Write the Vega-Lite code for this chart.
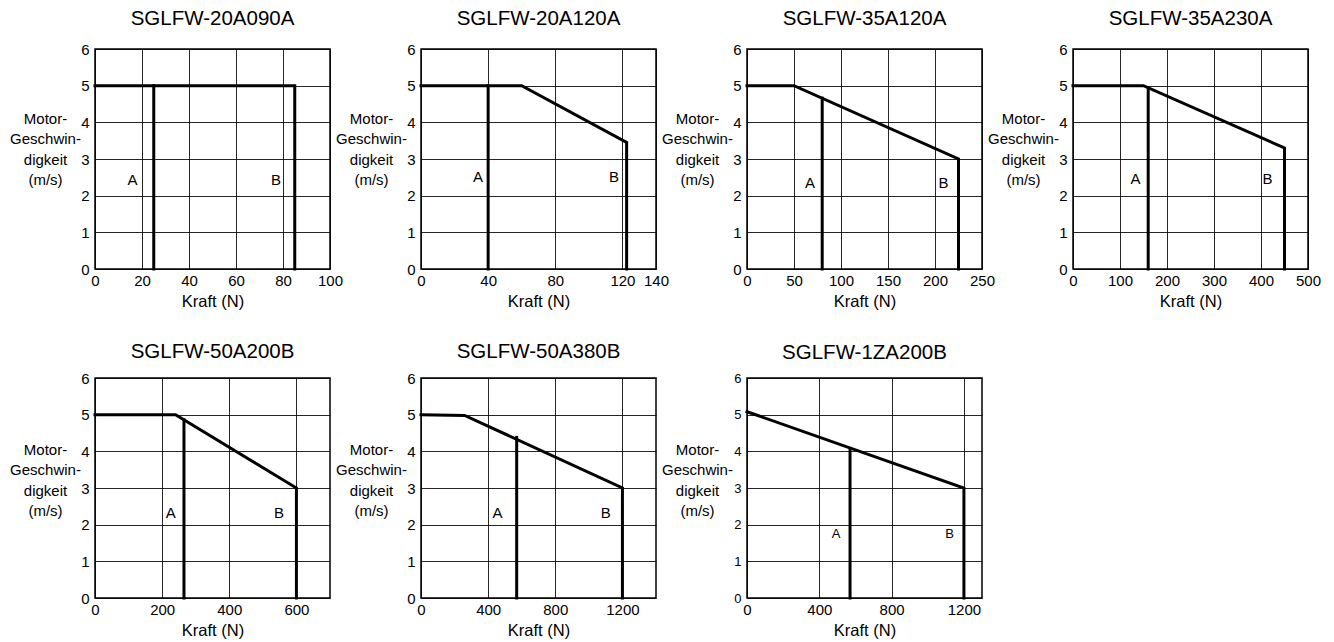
{
  "$schema": "https://vega.github.io/schema/vega-lite/v6.json",
  "padding": {"left": 8, "top": 7, "right": 0, "bottom": 0},
  "background": "white",
  "datasets": {
    "rows": [
      {"p": "SGLFW-20A090A", "k": "line", "s": "B", "i": 0, "x": 0, "y": 5},
      {"p": "SGLFW-20A090A", "k": "line", "s": "B", "i": 1, "x": 85, "y": 5},
      {"p": "SGLFW-20A090A", "k": "line", "s": "B", "i": 2, "x": 85, "y": 0},
      {"p": "SGLFW-20A090A", "k": "line", "s": "A", "i": 0, "x": 25, "y": 0},
      {"p": "SGLFW-20A090A", "k": "line", "s": "A", "i": 1, "x": 25, "y": 5},
      {"p": "SGLFW-20A090A", "k": "label", "t": "A", "x": 16, "y": 2.43},
      {"p": "SGLFW-20A090A", "k": "label", "t": "B", "x": 77, "y": 2.43},

      {"p": "SGLFW-20A120A", "k": "line", "s": "B", "i": 0, "x": 0, "y": 5},
      {"p": "SGLFW-20A120A", "k": "line", "s": "B", "i": 1, "x": 60, "y": 5},
      {"p": "SGLFW-20A120A", "k": "line", "s": "B", "i": 2, "x": 122.5, "y": 3.45},
      {"p": "SGLFW-20A120A", "k": "line", "s": "B", "i": 3, "x": 122.5, "y": 0},
      {"p": "SGLFW-20A120A", "k": "line", "s": "A", "i": 0, "x": 40, "y": 0},
      {"p": "SGLFW-20A120A", "k": "line", "s": "A", "i": 1, "x": 40, "y": 5},
      {"p": "SGLFW-20A120A", "k": "label", "t": "A", "x": 34, "y": 2.52},
      {"p": "SGLFW-20A120A", "k": "label", "t": "B", "x": 115, "y": 2.52},

      {"p": "SGLFW-35A120A", "k": "line", "s": "B", "i": 0, "x": 0, "y": 5},
      {"p": "SGLFW-35A120A", "k": "line", "s": "B", "i": 1, "x": 50, "y": 5},
      {"p": "SGLFW-35A120A", "k": "line", "s": "B", "i": 2, "x": 225, "y": 3},
      {"p": "SGLFW-35A120A", "k": "line", "s": "B", "i": 3, "x": 225, "y": 0},
      {"p": "SGLFW-35A120A", "k": "line", "s": "A", "i": 0, "x": 80, "y": 0},
      {"p": "SGLFW-35A120A", "k": "line", "s": "A", "i": 1, "x": 80, "y": 4.66},
      {"p": "SGLFW-35A120A", "k": "label", "t": "A", "x": 67, "y": 2.35},
      {"p": "SGLFW-35A120A", "k": "label", "t": "B", "x": 209, "y": 2.35},

      {"p": "SGLFW-35A230A", "k": "line", "s": "B", "i": 0, "x": 0, "y": 5},
      {"p": "SGLFW-35A230A", "k": "line", "s": "B", "i": 1, "x": 150, "y": 5},
      {"p": "SGLFW-35A230A", "k": "line", "s": "B", "i": 2, "x": 450, "y": 3.3},
      {"p": "SGLFW-35A230A", "k": "line", "s": "B", "i": 3, "x": 450, "y": 0},
      {"p": "SGLFW-35A230A", "k": "line", "s": "A", "i": 0, "x": 160, "y": 0},
      {"p": "SGLFW-35A230A", "k": "line", "s": "A", "i": 1, "x": 160, "y": 4.94},
      {"p": "SGLFW-35A230A", "k": "label", "t": "A", "x": 133, "y": 2.46},
      {"p": "SGLFW-35A230A", "k": "label", "t": "B", "x": 414, "y": 2.46},

      {"p": "SGLFW-50A200B", "k": "line", "s": "B", "i": 0, "x": 0, "y": 5},
      {"p": "SGLFW-50A200B", "k": "line", "s": "B", "i": 1, "x": 240, "y": 5},
      {"p": "SGLFW-50A200B", "k": "line", "s": "B", "i": 2, "x": 600, "y": 3},
      {"p": "SGLFW-50A200B", "k": "line", "s": "B", "i": 3, "x": 600, "y": 0},
      {"p": "SGLFW-50A200B", "k": "line", "s": "A", "i": 0, "x": 265, "y": 0},
      {"p": "SGLFW-50A200B", "k": "line", "s": "A", "i": 1, "x": 265, "y": 4.86},
      {"p": "SGLFW-50A200B", "k": "label", "t": "A", "x": 226, "y": 2.33},
      {"p": "SGLFW-50A200B", "k": "label", "t": "B", "x": 548, "y": 2.33},

      {"p": "SGLFW-50A380B", "k": "line", "s": "B", "i": 0, "x": 0, "y": 5},
      {"p": "SGLFW-50A380B", "k": "line", "s": "B", "i": 1, "x": 260, "y": 4.98},
      {"p": "SGLFW-50A380B", "k": "line", "s": "B", "i": 2, "x": 1200, "y": 3},
      {"p": "SGLFW-50A380B", "k": "line", "s": "B", "i": 3, "x": 1200, "y": 0},
      {"p": "SGLFW-50A380B", "k": "line", "s": "A", "i": 0, "x": 570, "y": 0},
      {"p": "SGLFW-50A380B", "k": "line", "s": "A", "i": 1, "x": 570, "y": 4.38},
      {"p": "SGLFW-50A380B", "k": "label", "t": "A", "x": 455, "y": 2.33},
      {"p": "SGLFW-50A380B", "k": "label", "t": "B", "x": 1100, "y": 2.33},

      {"p": "SGLFW-1ZA200B", "k": "line", "s": "B", "i": 0, "x": 0, "y": 5.08},
      {"p": "SGLFW-1ZA200B", "k": "line", "s": "B", "i": 1, "x": 1200, "y": 3},
      {"p": "SGLFW-1ZA200B", "k": "line", "s": "B", "i": 2, "x": 1200, "y": 0},
      {"p": "SGLFW-1ZA200B", "k": "line", "s": "A", "i": 0, "x": 570, "y": 0},
      {"p": "SGLFW-1ZA200B", "k": "line", "s": "A", "i": 1, "x": 570, "y": 4.08},
      {"p": "SGLFW-1ZA200B", "k": "label", "t": "A", "x": 493, "y": 1.75},
      {"p": "SGLFW-1ZA200B", "k": "label", "t": "B", "x": 1120, "y": 1.75}
    ]
  },
  "columns": 4,
  "bounds": "flush",
  "spacing": {"row": 109, "column": 91},
  "concat": [
    {
      "width": 235, "height": 220,
      "title": {"text": "SGLFW-20A090A", "offset": 13},
      "data": {"name": "rows"},
      "transform": [{"filter": "datum.p == 'SGLFW-20A090A'"}],
      "encoding": {
        "x": {"field": "x", "type": "quantitative", "scale": {"domain": [0, 100], "nice": false, "zero": false}, "axis": {"title": "Kraft (N)", "values": [0, 20, 40, 60, 80, 100]}},
        "y": {"field": "y", "type": "quantitative", "scale": {"domain": [0, 6], "nice": false}, "axis": {"title": ["Motor-", "Geschwin-", "digkeit", "(m/s)"], "values": [0, 1, 2, 3, 4, 5, 6]}}
      },
      "layer": [
        {"transform": [{"filter": "datum.k == 'line'"}], "mark": {"type": "line", "color": "black", "strokeWidth": 3, "strokeJoin": "miter", "strokeCap": "square"}, "encoding": {"detail": {"field": "s"}, "order": {"field": "i", "type": "quantitative"}}},
        {"transform": [{"filter": "datum.k == 'label'"}], "mark": {"type": "text", "fontSize": 15, "color": "black"}, "encoding": {"text": {"field": "t"}}}
      ]
    },
    {
      "width": 235, "height": 220,
      "title": {"text": "SGLFW-20A120A", "offset": 13},
      "data": {"name": "rows"},
      "transform": [{"filter": "datum.p == 'SGLFW-20A120A'"}],
      "encoding": {
        "x": {"field": "x", "type": "quantitative", "scale": {"domain": [0, 140], "nice": false, "zero": false}, "axis": {"title": "Kraft (N)", "values": [0, 40, 80, 120, 140]}},
        "y": {"field": "y", "type": "quantitative", "scale": {"domain": [0, 6], "nice": false}, "axis": {"title": ["Motor-", "Geschwin-", "digkeit", "(m/s)"], "values": [0, 1, 2, 3, 4, 5, 6]}}
      },
      "layer": [
        {"transform": [{"filter": "datum.k == 'line'"}], "mark": {"type": "line", "color": "black", "strokeWidth": 3, "strokeJoin": "miter", "strokeCap": "square"}, "encoding": {"detail": {"field": "s"}, "order": {"field": "i", "type": "quantitative"}}},
        {"transform": [{"filter": "datum.k == 'label'"}], "mark": {"type": "text", "fontSize": 15, "color": "black"}, "encoding": {"text": {"field": "t"}}}
      ]
    },
    {
      "width": 235, "height": 220,
      "title": {"text": "SGLFW-35A120A", "offset": 13},
      "data": {"name": "rows"},
      "transform": [{"filter": "datum.p == 'SGLFW-35A120A'"}],
      "encoding": {
        "x": {"field": "x", "type": "quantitative", "scale": {"domain": [0, 250], "nice": false, "zero": false}, "axis": {"title": "Kraft (N)", "values": [0, 50, 100, 150, 200, 250]}},
        "y": {"field": "y", "type": "quantitative", "scale": {"domain": [0, 6], "nice": false}, "axis": {"title": ["Motor-", "Geschwin-", "digkeit", "(m/s)"], "values": [0, 1, 2, 3, 4, 5, 6]}}
      },
      "layer": [
        {"transform": [{"filter": "datum.k == 'line'"}], "mark": {"type": "line", "color": "black", "strokeWidth": 3, "strokeJoin": "miter", "strokeCap": "square"}, "encoding": {"detail": {"field": "s"}, "order": {"field": "i", "type": "quantitative"}}},
        {"transform": [{"filter": "datum.k == 'label'"}], "mark": {"type": "text", "fontSize": 15, "color": "black"}, "encoding": {"text": {"field": "t"}}}
      ]
    },
    {
      "width": 235, "height": 220,
      "title": {"text": "SGLFW-35A230A", "offset": 13},
      "data": {"name": "rows"},
      "transform": [{"filter": "datum.p == 'SGLFW-35A230A'"}],
      "encoding": {
        "x": {"field": "x", "type": "quantitative", "scale": {"domain": [0, 500], "nice": false, "zero": false}, "axis": {"title": "Kraft (N)", "values": [0, 100, 200, 300, 400, 500]}},
        "y": {"field": "y", "type": "quantitative", "scale": {"domain": [0, 6], "nice": false}, "axis": {"title": ["Motor-", "Geschwin-", "digkeit", "(m/s)"], "values": [0, 1, 2, 3, 4, 5, 6]}}
      },
      "layer": [
        {"transform": [{"filter": "datum.k == 'line'"}], "mark": {"type": "line", "color": "black", "strokeWidth": 3, "strokeJoin": "miter", "strokeCap": "square"}, "encoding": {"detail": {"field": "s"}, "order": {"field": "i", "type": "quantitative"}}},
        {"transform": [{"filter": "datum.k == 'label'"}], "mark": {"type": "text", "fontSize": 15, "color": "black"}, "encoding": {"text": {"field": "t"}}}
      ]
    },
    {
      "width": 235, "height": 220,
      "title": {"text": "SGLFW-50A200B", "offset": 9},
      "data": {"name": "rows"},
      "transform": [{"filter": "datum.p == 'SGLFW-50A200B'"}],
      "encoding": {
        "x": {"field": "x", "type": "quantitative", "scale": {"domain": [0, 700], "nice": false, "zero": false}, "axis": {"title": "Kraft (N)", "values": [0, 200, 400, 600]}},
        "y": {"field": "y", "type": "quantitative", "scale": {"domain": [0, 6], "nice": false}, "axis": {"title": ["Motor-", "Geschwin-", "digkeit", "(m/s)"], "values": [0, 1, 2, 3, 4, 5, 6], "titleY": 71}}
      },
      "layer": [
        {"transform": [{"filter": "datum.k == 'line'"}], "mark": {"type": "line", "color": "black", "strokeWidth": 3, "strokeJoin": "miter", "strokeCap": "square"}, "encoding": {"detail": {"field": "s"}, "order": {"field": "i", "type": "quantitative"}}},
        {"transform": [{"filter": "datum.k == 'label'"}], "mark": {"type": "text", "fontSize": 15, "color": "black"}, "encoding": {"text": {"field": "t"}}}
      ]
    },
    {
      "width": 235, "height": 220,
      "title": {"text": "SGLFW-50A380B", "offset": 9},
      "data": {"name": "rows"},
      "transform": [{"filter": "datum.p == 'SGLFW-50A380B'"}],
      "encoding": {
        "x": {"field": "x", "type": "quantitative", "scale": {"domain": [0, 1400], "nice": false, "zero": false}, "axis": {"title": "Kraft (N)", "values": [0, 400, 800, 1200]}},
        "y": {"field": "y", "type": "quantitative", "scale": {"domain": [0, 6], "nice": false}, "axis": {"title": ["Motor-", "Geschwin-", "digkeit", "(m/s)"], "values": [0, 1, 2, 3, 4, 5, 6], "titleY": 71}}
      },
      "layer": [
        {"transform": [{"filter": "datum.k == 'line'"}], "mark": {"type": "line", "color": "black", "strokeWidth": 3, "strokeJoin": "miter", "strokeCap": "square"}, "encoding": {"detail": {"field": "s"}, "order": {"field": "i", "type": "quantitative"}}},
        {"transform": [{"filter": "datum.k == 'label'"}], "mark": {"type": "text", "fontSize": 15, "color": "black"}, "encoding": {"text": {"field": "t"}}}
      ]
    },
    {
      "width": 235, "height": 220,
      "title": {"text": "SGLFW-1ZA200B", "offset": 9},
      "data": {"name": "rows"},
      "transform": [{"filter": "datum.p == 'SGLFW-1ZA200B'"}],
      "encoding": {
        "x": {"field": "x", "type": "quantitative", "scale": {"domain": [0, 1300], "nice": false, "zero": false}, "axis": {"title": "Kraft (N)", "values": [0, 400, 800, 1200]}},
        "y": {"field": "y", "type": "quantitative", "scale": {"domain": [0, 6], "nice": false}, "axis": {"title": ["Motor-", "Geschwin-", "digkeit", "(m/s)"], "values": [0, 1, 2, 3, 4, 5, 6], "labelFontSize": 13, "titleY": 71}}
      },
      "layer": [
        {"transform": [{"filter": "datum.k == 'line'"}], "mark": {"type": "line", "color": "black", "strokeWidth": 3, "strokeJoin": "miter", "strokeCap": "square"}, "encoding": {"detail": {"field": "s"}, "order": {"field": "i", "type": "quantitative"}}},
        {"transform": [{"filter": "datum.k == 'label'"}], "mark": {"type": "text", "fontSize": 13, "color": "black"}, "encoding": {"text": {"field": "t"}}}
      ]
    }
  ],
  "config": {
    "font": "Liberation Sans",
    "view": {"stroke": "black", "strokeWidth": 1.5},
    "axis": {
      "grid": true, "gridColor": "black", "gridWidth": 1, "gridOpacity": 0.85,
      "ticks": false, "domain": false,
      "labelFontSize": 15, "labelColor": "black", "labelOverlap": false, "labelFlush": false,
      "titleColor": "black", "titleFontWeight": "normal", "format": "d"
    },
    "axisX": {"titleFontSize": 16.5, "titlePadding": 5, "labelPadding": 4},
    "axisY": {
      "titleFontSize": 15, "titleAngle": 0, "titleAlign": "center", "titleBaseline": "middle",
      "titleX": -50, "titleY": 69, "titleLineHeight": 20.6, "labelPadding": 6
    },
    "title": {"fontSize": 20.5, "fontWeight": "normal", "color": "black", "frame": "group", "anchor": "middle"}
  }
}
